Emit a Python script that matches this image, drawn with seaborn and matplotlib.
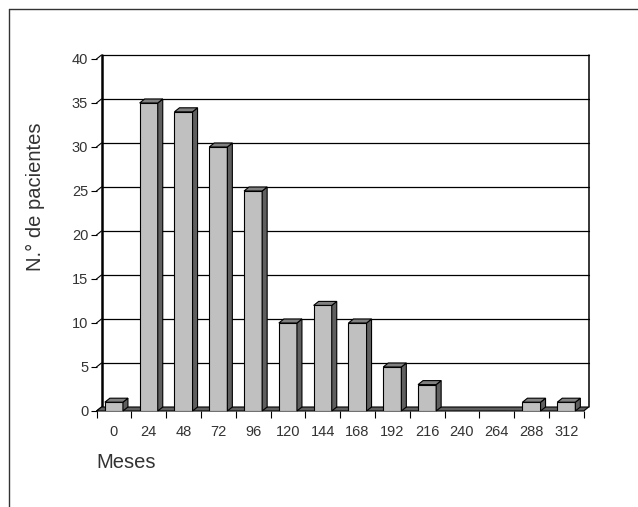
import matplotlib
matplotlib.use('Agg')
import matplotlib.pyplot as plt
import seaborn as sns
from matplotlib.patches import Polygon
from matplotlib.lines import Line2D

# data
months = ['0', '24', '48', '72', '96', '120', '144', '168', '192', '216', '240', '264', '288', '312']
patients = [1, 35, 34, 30, 25, 10, 12, 10, 5, 3, 0, 0, 1, 1]
y_ticks = [0, 5, 10, 15, 20, 25, 30, 35, 40]

FRONT = '#c0c0c0'
SIDE = '#5f5f5f'
TOP = '#808080'
TXT = '#333333'

sns.set_theme(style='white')
plt.rcParams['font.family'] = ['Liberation Sans', 'DejaVu Sans']

W, H = 638, 507
fig = plt.figure(figsize=(W / 100, H / 100), dpi=100)
ax_l, ax_r, ax_t, ax_b = 96.5, 583.7, 59, 411
ax = fig.add_axes([ax_l / W, 1 - ax_b / H, (ax_r - ax_l) / W, (ax_b - ax_t) / H])
ax.set_facecolor('none')

sns.barplot(x=months, y=patients, color=FRONT, saturation=1, width=0.52,
            edgecolor='black', linewidth=0.8, ax=ax, zorder=3)
bars = list(ax.patches)

n = len(months)
ax.set_xlim(-0.5, n - 0.5)
ax.set_ylim(0, 40)

# 3D depth in data units (5px right, 4px up)
dx = 5 / ((ax_r - ax_l) / n)
dy = 4 / ((ax_b - ax_t) / 40)
x0, x1 = -0.5, n - 0.5

# back wall gridlines and frame
for y in y_ticks[1:]:
    ax.plot([x0 + dx, x1 + dx], [y + dy, y + dy], color='black', lw=0.9,
            clip_on=False, zorder=1)
    ax.plot([x0, x0 + dx], [y, y + dy], color='black', lw=0.8, clip_on=False, zorder=1)
ax.plot([x0, x0 + dx], [0, dy], color='black', lw=0.8, clip_on=False, zorder=1)
ax.plot([x1 + dx, x1 + dx], [dy, 40 + dy], color='black', lw=1.1, clip_on=False, zorder=1)
ax.plot([x0 + dx, x0 + dx], [dy, 40 + dy], color='black', lw=1.8, clip_on=False, zorder=1)

# floor
ax.add_patch(Polygon([(x0, 0), (x1, 0), (x1 + dx, dy), (x0 + dx, dy)],
                     closed=True, fc='#606060', ec='black', lw=0.8, clip_on=False, zorder=2))

# bar sides and tops
for p in bars:
    bx, w, h = p.get_x(), p.get_width(), p.get_height()
    if h <= 0:
        continue
    side = [(bx + w, 0), (bx + w, h), (bx + w + dx, h + dy), (bx + w + dx, dy)]
    top = [(bx, h), (bx + w, h), (bx + w + dx, h + dy), (bx + dx, h + dy)]
    ax.add_patch(Polygon(side, closed=True, fc=SIDE, ec='black', lw=0.8, clip_on=False, zorder=3))
    ax.add_patch(Polygon(top, closed=True, fc=TOP, ec='black', lw=0.8, clip_on=False, zorder=3))

for s in ax.spines.values():
    s.set_visible(False)

ax.set_xticks([i - 0.5 for i in range(n + 1)])
ax.set_xticklabels([])
ax.set_xticks(range(n), minor=True)
ax.set_xticklabels(months, minor=True)
ax.tick_params(axis='x', which='major', length=5, width=0.8, color='black', direction='out', bottom=True)
ax.tick_params(axis='x', which='minor', length=0, pad=10, labelsize=10.5, labelcolor=TXT, bottom=True)
ax.set_yticks(y_ticks)
ax.tick_params(axis='y', length=4, width=0.8, color='black', direction='out', left=True,
               labelsize=10.5, labelcolor=TXT, pad=2)
ax.set_xlabel('')
ax.set_ylabel('')

fig.text(96 / W, 1 - 463 / H, 'Meses', fontsize=14.5, ha='left', va='center', color=TXT)
fig.text(35 / W, 1 - 197 / H, 'N.° de pacientes', fontsize=14.5, rotation=90,
         ha='center', va='center', color=TXT)

# outer frame
fig.add_artist(Line2D([9 / W, 1], [1 - 9 / H, 1 - 9 / H], color='#333333', lw=1))
fig.add_artist(Line2D([9 / W, 9 / W], [0, 1 - 9 / H], color='#333333', lw=1))

fig.savefig('out.png', dpi=100)
